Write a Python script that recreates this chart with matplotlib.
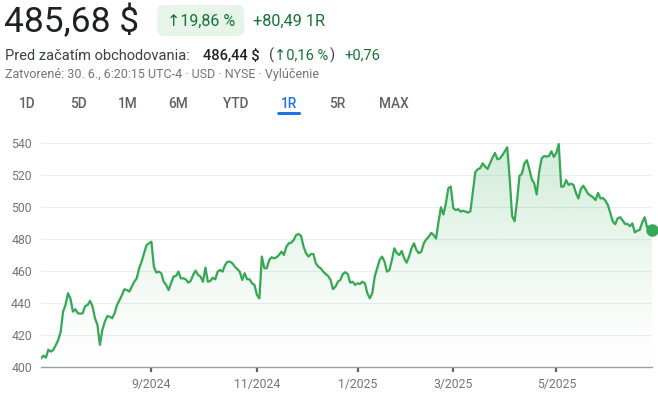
import numpy as np
import pandas as pd
import matplotlib
matplotlib.use("Agg")
import matplotlib.pyplot as plt
from matplotlib.colors import to_rgb
from matplotlib.patches import FancyBboxPatch
from matplotlib.transforms import IdentityTransform

plt.rcParams['font.family'] = ['Roboto', 'DejaVu Sans']

# daily closes (1 year, trading days)
closes_jul_oct = [
    405.6, 407.3, 406.0, 411.0, 409.8, 410.8, 413.8, 417.0, 422.0, 434.8,
    439.0, 446.3, 443.0, 434.8, 436.3, 433.8, 433.5, 433.8, 438.3, 439.0,
    441.5, 438.0, 430.6, 426.5, 414.0, 423.3, 428.5, 432.0, 431.7, 430.6,
    433.8, 439.0, 442.0, 445.2, 448.8, 448.3, 447.3, 450.4, 453.5, 455.6,
    461.9, 466.0, 471.3, 476.3, 477.5, 478.5, 462.9, 459.2, 459.8, 458.8,
    453.5, 451.5, 448.3, 452.5, 456.7, 457.0, 459.8, 455.6, 455.6, 455.0,
    452.9, 454.0, 457.7, 460.4, 457.7, 456.7, 453.5, 462.3, 453.5, 454.0,
    456.0, 455.0, 459.8, 460.8,
]
closes_oct_feb = [
    459.8, 464.0, 466.0, 466.0, 465.0, 462.9, 461.3, 459.8, 454.6, 458.8,
    455.0, 455.0, 452.5, 451.5, 445.2, 443.1, 469.2, 461.9, 461.9, 467.1,
    468.8, 468.1, 468.8, 470.2, 472.3, 470.2, 475.4, 477.5, 477.9, 479.6,
    482.7, 483.3, 482.1, 475.4, 471.3, 469.2, 470.8, 470.8, 465.0, 462.9,
    461.9, 459.8, 458.3, 457.1, 454.6, 448.8, 450.4, 453.5, 454.6, 458.3,
    459.4, 458.3, 452.9, 453.5, 451.5, 452.5, 452.1, 453.5, 452.5, 446.3,
    443.1, 446.3, 456.7, 461.9, 467.1, 469.2, 466.0, 459.8, 460.8, 467.1,
    474.4, 471.3, 470.2, 472.7, 468.1, 465.4, 469.2, 474.4, 477.5, 473.3,
    471.3, 472.3, 477.5, 480.0, 481.5, 484.0,
]
closes_feb_jun = [
    482.7, 480.5, 491.0, 500.0, 495.5, 502.5, 511.9, 513.0, 499.5, 498.3,
    498.8, 497.3, 497.9, 497.3, 496.7, 497.5, 509.5, 522.0, 523.8, 524.5,
    527.5, 525.4, 524.0, 527.5, 531.0, 534.0, 530.0, 530.5, 532.5, 535.0,
    537.5, 518.0, 494.5, 491.3, 504.0, 519.7, 521.0, 527.5, 529.4, 524.0,
    517.5, 515.0, 508.0, 522.0, 530.5, 532.0, 531.7, 532.0, 535.0, 531.5,
    534.0, 539.5, 512.9, 513.0, 517.0, 514.0, 514.8, 514.0, 509.0, 505.5,
    511.5, 513.5, 511.0, 508.3, 507.3, 506.2, 504.5, 509.0, 505.5, 505.8,
    504.2, 501.5, 496.5, 491.2, 489.4, 493.1, 493.8, 491.9, 489.6, 489.6,
    488.2, 490.0, 484.3, 485.4, 485.8, 490.5, 493.8, 487.5, 485.8, 485.68,
]
market_holidays = ['2024-07-04', '2024-09-02', '2024-11-28', '2024-12-25',
                   '2025-01-01', '2025-01-09', '2025-01-20', '2025-02-17',
                   '2025-04-18', '2025-05-26', '2025-06-19']
month_labels = ['9/2024', '11/2024', '1/2025', '3/2025', '5/2025']
y_ticks = [400, 420, 440, 460, 480, 500, 520, 540]
ranges = ['1D', '5D', '1M', '6M', 'YTD', '1R', '5R', 'MAX']

closes = closes_jul_oct + closes_oct_feb + closes_feb_jun
days = pd.bdate_range('2024-06-28', '2025-06-27', freq='C', holidays=market_holidays)
n = min(len(days), len(closes))
days = days[:n]
closes = np.array(closes[:n])
x = np.arange(n)

green = '#34a853'
dark_green = '#137333'
grey = '#70757a'

W, H = 658, 394
fig = plt.figure(figsize=(W / 100, H / 100), dpi=100)
ax = fig.add_axes([41 / W, (H - 367.3) / H, 611 / W, 232 / H])

# gradient fill under line
top = 540
grad = np.zeros((256, 1, 4))
grad[..., :3] = to_rgb(green)
grad[:, 0, 3] = np.linspace(0.0, 0.32, 256) ** 1.3
im = ax.imshow(grad, extent=[0, n - 1, 400, top], origin='lower', aspect='auto', zorder=1)
poly = ax.fill_between(x, closes, 400, color='none', lw=0)
im.set_clip_path(poly.get_paths()[0], transform=ax.transData)

ax.plot(x, closes, color=green, lw=1.6, zorder=3, solid_joinstyle='round')
ax.plot(x[-1], closes[-1], 'o', color=green, ms=8, zorder=4, clip_on=False)

ax.set_xlim(0, n - 1)
ax.set_ylim(400, 545)
ax.set_yticks(y_ticks)
ax.grid(axis='y', color='#eceef0', lw=0.8)
ax.set_axisbelow(True)

tick_pos = []
for lab in month_labels:
    m, yr = lab.split('/')
    idx = np.where((days.month == int(m)) & (days.year == int(yr)))[0][0]
    tick_pos.append(idx)
ax.set_xticks(tick_pos)
ax.set_xticklabels(month_labels)

for s in ['top', 'right', 'left']:
    ax.spines[s].set_visible(False)
ax.spines['bottom'].set_color('#9aa0a6')
ax.spines['bottom'].set_linewidth(1.0)
ax.tick_params(axis='y', length=0, pad=6.5, labelsize=8.8, labelcolor=grey)
ax.tick_params(axis='x', length=3.5, width=1.6, color='#5f6368', pad=4.5,
               labelsize=8.8, labelcolor=grey)


def fx(px):
    return px / W


def fy(py):
    return 1 - py / H


# header
fig.text(fx(4), fy(32), '485,68 $', fontsize=25.5, color='#202124', va='baseline')
badge = FancyBboxPatch((157.3, H - 36), 86.7, 31, boxstyle='round,pad=0,rounding_size=6',
                       transform=IdentityTransform(), facecolor='#e6f4ea', edgecolor='none')
fig.add_artist(badge)
fig.text(fx(201), fy(21), '↑19,86 %', fontsize=11.5, color=dark_green, ha='center', va='center')
fig.text(fx(253), fy(21), '+80,49 1R', fontsize=11.7, color=dark_green, va='center')

row2 = 10.5
fig.text(fx(5), fy(59.5), 'Pred začatím obchodovania:', fontsize=row2, color='#3c4043', va='baseline')
fig.text(fx(203), fy(59.5), '486,44 $', fontsize=row2, color='#202124', va='baseline',
         fontweight='medium')
fig.text(fx(268.5), fy(59.5), '(', fontsize=row2, color='#3c4043', va='baseline')
fig.text(fx(274), fy(59.5), '↑0,16 %', fontsize=row2, color=dark_green, va='baseline')
fig.text(fx(330), fy(59.5), ')', fontsize=row2, color='#3c4043', va='baseline')
fig.text(fx(344), fy(59.5), '+0,76', fontsize=row2, color=dark_green, va='baseline')

fig.text(fx(5), fy(78), 'Zatvorené: 30. 6., 6:20:15 UTC-4 · USD · NYSE · Vylúčenie',
         fontsize=9.0, color=grey, va='baseline')

tab_x = [27.5, 78, 128, 178, 235.5, 288.5, 337.5, 393.5]
for lab, cx in zip(ranges, tab_x):
    col = '#1a73e8' if lab == '1R' else '#5f6368'
    fig.text(fx(cx), fy(108.3), lab, fontsize=9.8, color=col, ha='center', va='baseline',
             fontweight='medium')
underline = FancyBboxPatch((277.3, H - 115), 23.7, 3, boxstyle='round,pad=0,rounding_size=1.5',
                           transform=IdentityTransform(), facecolor='#1a73e8', edgecolor='none')
fig.add_artist(underline)

fig.savefig('out.png', dpi=100)
